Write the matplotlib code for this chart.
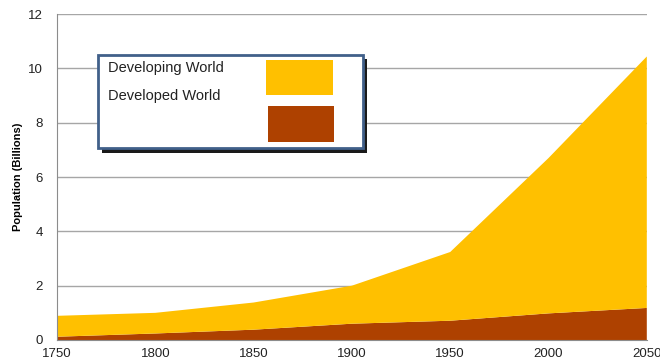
import matplotlib.pyplot as plt
from matplotlib.patches import Rectangle

plt.rcParams['font.family'] = ['Liberation Sans', 'DejaVu Sans']

# Dados
years = [1750, 1800, 1850, 1900, 1950, 2000, 2050]
developed = [0.12, 0.24, 0.38, 0.60, 0.71, 0.98, 1.18]
developing = [0.77, 0.76, 1.00, 1.40, 2.53, 5.72, 9.26]
y_ticks = [0, 2, 4, 6, 8, 10, 12]

gold = '#FFC000'
brown = '#AE4100'

fig = plt.figure(figsize=(6.6, 3.62), dpi=100)
ax = fig.add_axes([0.0864, 0.0608, 0.8936, 0.9002])

ax.stackplot(years, developed, developing, colors=[brown, gold], zorder=2)

ax.set_xlim(1750, 2050)
ax.set_ylim(0, 12)
ax.set_xticks(years)
ax.set_yticks(y_ticks)
ax.grid(axis='y', color='#a6a6a6', linewidth=1, zorder=0)
ax.tick_params(length=0, labelsize=9.5, colors='#222222')
ax.tick_params(axis='y', pad=10)
ax.tick_params(axis='x', pad=6)
for s in ['top', 'right']:
    ax.spines[s].set_visible(False)
for s in ['left', 'bottom']:
    ax.spines[s].set_color('#8c8c8c')
ax.set_ylabel('Population (Billions)', fontsize=8, fontweight='bold', labelpad=4)

# Legenda customizada com sombra
W, H = 660.0, 362.0
def box(x, y, w, h, **kw):
    fig.patches.append(Rectangle((x / W, 1 - (y + h) / H), w / W, h / H,
                                 transform=fig.transFigure, **kw))

box(102, 59, 265, 94, facecolor='#1a1a1a', edgecolor='none', zorder=5)
box(98, 55, 265, 93, facecolor='white', edgecolor='#41608a', linewidth=2, zorder=6)
box(266, 60, 67, 35, facecolor=gold, edgecolor='none', zorder=7)
box(268, 106, 66, 36, facecolor=brown, edgecolor='none', zorder=7)
fig.text(108 / W, 1 - 68 / H, 'Developing World', fontsize=10.5, color='#222222',
         va='center', zorder=8)
fig.text(108 / W, 1 - 96 / H, 'Developed World', fontsize=10.5, color='#222222',
         va='center', zorder=8)

plt.savefig('out.png')
